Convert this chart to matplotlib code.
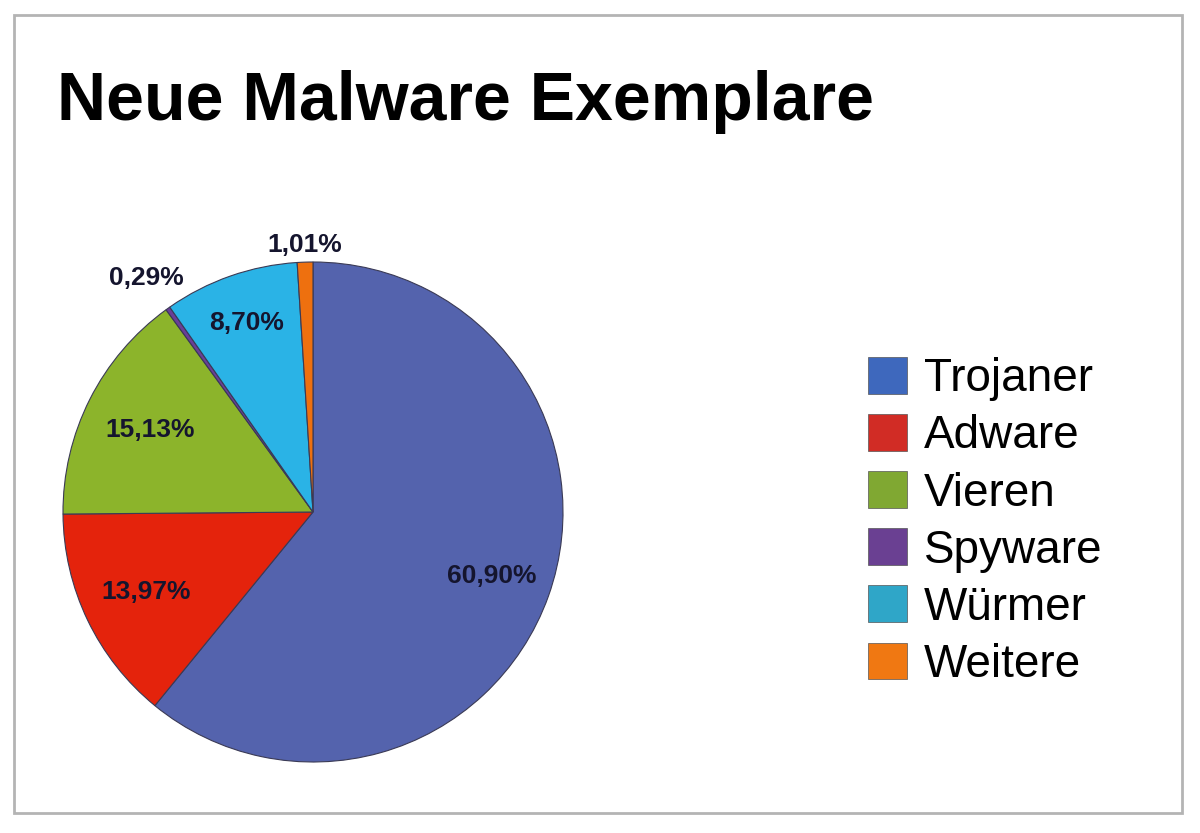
import numpy as np
import matplotlib
matplotlib.use("Agg")
import matplotlib.pyplot as plt
from matplotlib.patches import Patch, Rectangle

categories = ["Trojaner", "Adware", "Vieren", "Spyware", "Würmer", "Weitere"]
values = [60.90, 13.97, 15.13, 0.29, 8.70, 1.01]
labels = ["60,90%", "13,97%", "15,13%", "0,29%", "8,70%", "1,01%"]
title = "Neue Malware Exemplare"

wedge_colors = ["#5463ad", "#e4230c", "#8cb42b", "#6a3e98", "#2ab3e6", "#ee700f"]
legend_colors = ["#3e68bd", "#d12c25", "#80a832", "#6a4092", "#2fa6c8", "#f07812"]
label_dist = [0.76, 0.74, 0.73, 1.15, 0.80, 1.07]

W, H = 1200, 833
fig = plt.figure(figsize=(12, 8.33), dpi=100)
fig.patch.set_facecolor("white")

# frame
fig.add_artist(Rectangle((14 / W, 1 - 813 / H), (1182 - 14) / W, (813 - 15) / H,
                         transform=fig.transFigure, fill=False,
                         edgecolor="#b4b4b4", linewidth=2))

fig.text(57 / W, 1 - 120 / H, title, fontsize=49, fontweight="bold",
         family="Liberation Sans", color="black", va="baseline", ha="left")

ax = fig.add_axes([63 / W, 1 - 762 / H, 500 / W, 500 / H])
wedges, _ = ax.pie(values, colors=wedge_colors, startangle=90, counterclock=False,
                   radius=1, wedgeprops=dict(edgecolor="#3a3a55", linewidth=0.8))
ax.set_xlim(-1, 1)
ax.set_ylim(-1, 1)
ax.set_aspect("equal")
ax.axis("off")

for w, lab, d in zip(wedges, labels, label_dist):
    ang = np.deg2rad((w.theta1 + w.theta2) / 2)
    ax.text(d * np.cos(ang), d * np.sin(ang), lab, ha="center", va="center",
            fontsize=19, fontweight="bold", family="Liberation Sans",
            color="#15152e")

handles = [Patch(facecolor=c, edgecolor="#555555", linewidth=0.5) for c in legend_colors]
fig.legend(handles, categories, loc="upper left",
           bbox_to_anchor=(868 / W, 1 - 357 / H), frameon=False,
           prop=dict(family="Liberation Sans", size=33),
           handlelength=0.86, handleheight=0.86, handletextpad=0.36,
           labelspacing=0.28, borderpad=0, borderaxespad=0)

fig.savefig("out.png", dpi=100, facecolor="white")
